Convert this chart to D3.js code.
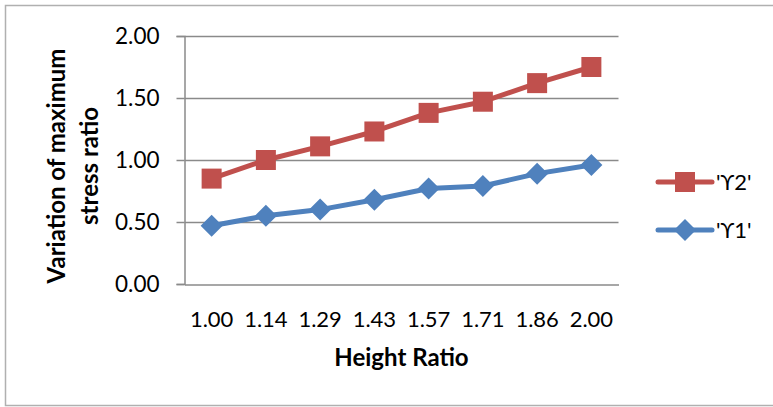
<!DOCTYPE html>
<html>
<head>
<meta charset="utf-8">
<script src="https://cdn.jsdelivr.net/npm/d3@7"></script>
<style>
  html, body { margin: 0; padding: 0; background: #fff; }
  svg { display: block; }
  text { font-family: Lato, "Open Sans", "DejaVu Sans", sans-serif; fill: #000; }
</style>
</head>
<body>
<svg id="chart" width="773" height="407"></svg>
<script>
// Height ratio categories
const categories = ["1.00", "1.14", "1.29", "1.43", "1.57", "1.71", "1.86", "2.00"];
// Variation of maximum stress ratio per series
const seriesY2 = [0.85, 1.00, 1.11, 1.23, 1.38, 1.47, 1.62, 1.75];
const seriesY1 = [0.47, 0.55, 0.60, 0.68, 0.77, 0.79, 0.89, 0.96];
const yTicks = [0, 0.5, 1.0, 1.5, 2.0];
const seriesNames = ["'\u03D22'", "'\u03D21'"];

const series = [
  { name: seriesNames[0], values: seriesY2, color: "#C0504D", marker: "square" },
  { name: seriesNames[1], values: seriesY1, color: "#4F81BD", marker: "diamond" }
];

const svg = d3.select("#chart");

// outer chart frame
svg.append("rect")
  .attr("x", 5.5).attr("y", 5.5)
  .attr("width", 780).attr("height", 400)
  .attr("fill", "none").attr("stroke", "#b0b0b0").attr("stroke-width", 1.5);

const plot = { left: 184.5, right: 618.5, top: 36, bottom: 284 };

const x = d3.scaleBand().domain(categories).range([plot.left, plot.right]);
const y = d3.scaleLinear().domain([0, 2]).range([plot.bottom, plot.top]);

// horizontal gridlines
svg.append("g")
  .selectAll("line")
  .data(yTicks.filter(d => d > 0))
  .join("line")
  .attr("x1", plot.left).attr("x2", plot.right)
  .attr("y1", d => Math.round(y(d)) + 0.5).attr("y2", d => Math.round(y(d)) + 0.5)
  .attr("stroke", "#8a8a8a").attr("stroke-width", 1.5);

// y axis
const yAxis = svg.append("g")
  .attr("transform", `translate(${plot.left},0)`)
  .call(d3.axisLeft(y).tickValues(yTicks).tickFormat(d3.format(".2f")).tickSize(8).tickPadding(17));
yAxis.select(".domain").attr("stroke", "#8a8a8a").attr("stroke-width", 1.5);
yAxis.selectAll(".tick line").attr("stroke", "#8a8a8a").attr("stroke-width", 1.5);
yAxis.selectAll(".tick text").attr("font-size", 22.5).attr("font-family", "Lato, sans-serif").attr("fill", "#000");

// x axis
const xAxis = svg.append("g")
  .attr("transform", `translate(0,${plot.bottom + 0.5})`)
  .call(d3.axisBottom(x).tickSize(0).tickPadding(27));
xAxis.select(".domain").attr("stroke", "#8a8a8a").attr("stroke-width", 1.5);
xAxis.selectAll(".tick text").attr("font-size", 22).attr("font-family", "Lato, sans-serif").attr("fill", "#000");

// axis titles
svg.append("text")
  .attr("x", (plot.left + plot.right) / 2).attr("y", 366)
  .attr("text-anchor", "middle")
  .attr("font-size", 24).attr("font-weight", "bold")
  .text("Height Ratio");

const yTitle = svg.append("text")
  .attr("transform", `translate(0,166) rotate(-90)`)
  .attr("text-anchor", "middle")
  .attr("font-size", 24).attr("font-weight", "bold");
yTitle.append("tspan").attr("x", 0).attr("y", 65).text("Variation of maximum");
yTitle.append("tspan").attr("x", 0).attr("y", 98).text("stress ratio");

const cx = d => x(d) + x.bandwidth() / 2;

function drawMarker(g, type, color) {
  if (type === "square") {
    g.append("rect").attr("x", -10).attr("y", -10).attr("width", 20).attr("height", 20).attr("fill", color);
  } else {
    g.append("path").attr("d", "M0,-11L11,0L0,11L-11,0Z").attr("fill", color);
  }
}

const line = d3.line().x((d, i) => cx(categories[i])).y(d => y(d));

series.forEach(s => {
  svg.append("path")
    .datum(s.values)
    .attr("d", line)
    .attr("fill", "none")
    .attr("stroke", s.color)
    .attr("stroke-width", 5)
    .attr("stroke-linejoin", "round");
  s.values.forEach((v, i) => {
    const g = svg.append("g").attr("transform", `translate(${cx(categories[i])},${y(v)})`);
    drawMarker(g, s.marker, s.color);
  });
});

// legend
const legendRows = [182, 230];
series.forEach((s, i) => {
  const g = svg.append("g").attr("transform", `translate(658,${legendRows[i]})`);
  g.append("line").attr("x1", 0).attr("x2", 54).attr("y1", 0).attr("y2", 0)
    .attr("stroke", s.color).attr("stroke-width", 5).attr("stroke-linecap", "round");
  const m = g.append("g").attr("transform", "translate(27,0)");
  drawMarker(m, s.marker, s.color);
  g.append("text").attr("x", 58).attr("y", 8).attr("font-size", 22).text(s.name);
});
</script>
</body>
</html>
